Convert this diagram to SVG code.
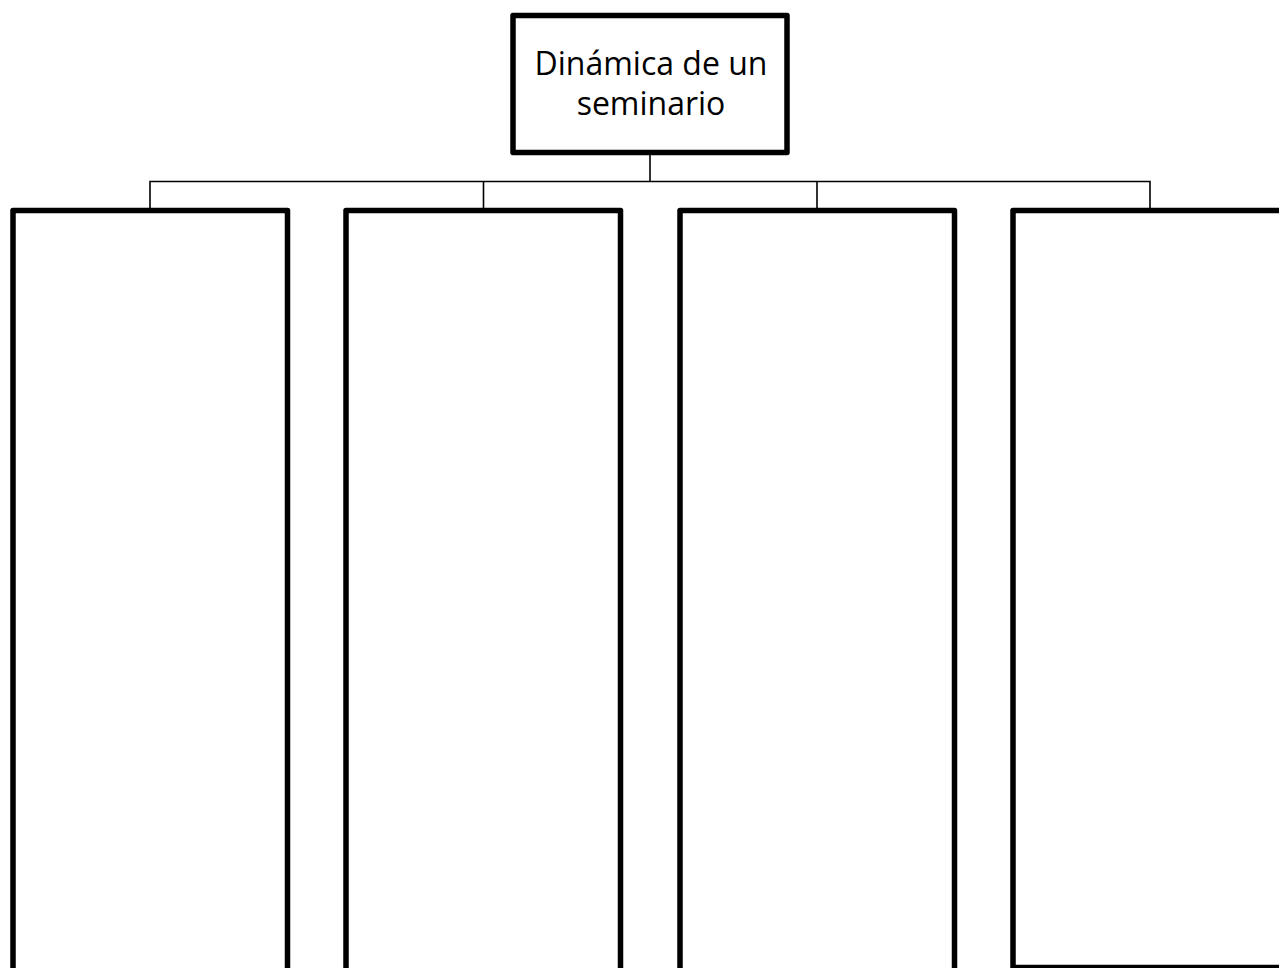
<svg xmlns="http://www.w3.org/2000/svg" width="1279" height="968" viewBox="0 0 1279 968">
<style>
.box{fill:#fff;stroke:#000;stroke-width:5.5;stroke-linejoin:round}
.conn{fill:none;stroke:#000;stroke-width:1.6}
.lbl{font-family:"Open Sans","Liberation Sans",sans-serif;font-size:32px;fill:#000;text-anchor:middle}
</style>
<rect width="1279" height="968" fill="#fff"/>
<g id="connectors">
<path class="conn" d="M650,152.5 V181.5 M150,210.5 V181.5 H1150 V210.5 M483.5,181.5 V210.5 M817,181.5 V210.5"/>
</g>
<g id="root">
<rect class="box" x="513" y="15.5" width="274" height="137"/>
<text class="lbl" x="651" y="75">Dinámica de un</text>
<text class="lbl" x="651" y="115">seminario</text>
</g>
<g id="col1"><rect class="box" x="13" y="210.5" width="274.5" height="800"/></g>
<g id="col2"><rect class="box" x="346" y="210.5" width="274.5" height="800"/></g>
<g id="col3"><rect class="box" x="680" y="210.5" width="274.5" height="800"/></g>
<g id="col4"><rect class="box" x="1013" y="210.5" width="280" height="757"/></g>
</svg>
